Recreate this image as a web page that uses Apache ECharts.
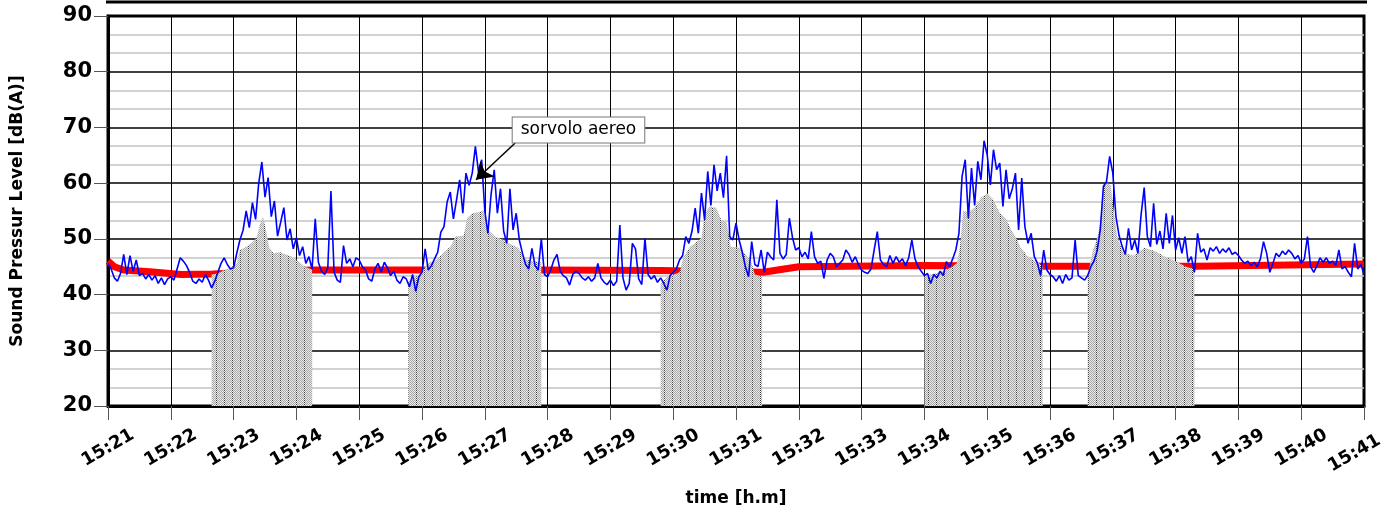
<!DOCTYPE html>
<html>
<head>
<meta charset="utf-8">
<script src="https://cdn.jsdelivr.net/npm/echarts@6/dist/echarts.min.js"></script>
<style>
html,body{margin:0;padding:0;background:#fff;}
#chart{width:1383px;height:510px;}
</style>
</head>
<body>
<div id="chart"></div>
<script>
// ---- DATA ----
const startHour = 15;
const startMinute = 21;
const xTickStepSec = 60;
const yTicks = [20, 30, 40, 50, 60, 70, 80, 90];
const yAxisTitle = 'Sound Pressur Level [dB(A)]';
const xAxisTitle = 'time [h.m]';
const annotationText = 'sorvolo aereo';

// blue: measured level, one value every 3 s from 15:21:00
const blueStep = 3;
const blueValues = [
  45.6,44.6,43.0,42.4,43.8,47.2,43.6,47.0,44.2,46.2,43.4,43.8,42.8,43.6,42.6,43.4,42.0,43.0,41.8,42.8,
  43.2,42.6,44.6,46.6,46.0,45.2,44.0,42.4,42.0,42.8,42.2,43.6,42.6,41.2,42.4,44.0,45.6,46.6,45.4,44.6,
  44.8,47.4,49.8,51.5,55.0,52.0,56.5,53.5,60.0,63.8,57.5,61.0,54.0,56.8,50.5,53.0,55.6,49.8,51.8,48.2,
  50.2,47.0,48.6,45.6,46.8,44.6,53.6,45.8,44.2,43.6,44.8,58.6,44.0,42.6,42.2,48.8,45.6,46.4,45.0,46.6,
  46.2,45.0,44.4,42.8,42.4,44.6,45.6,44.0,45.8,44.8,43.4,44.2,42.6,42.0,43.2,42.8,41.4,43.6,40.6,43.2,
  44.0,48.2,44.4,45.2,46.4,47.6,51.2,52.2,56.6,58.4,53.6,57.0,60.6,54.6,61.8,59.6,61.8,66.6,62.0,64.2,
  55.0,51.0,58.0,62.4,54.6,59.0,51.4,49.2,59.0,51.6,54.6,49.8,47.4,45.4,44.6,48.3,45.2,44.4,50.0,43.6,
  43.2,44.4,46.2,47.2,44.2,43.4,43.0,41.7,43.6,44.2,43.8,43.0,42.6,43.2,42.4,43.0,45.6,43.0,42.2,41.8,
  42.6,41.6,42.4,52.5,43.0,40.8,42.0,49.2,48.2,42.8,41.8,50.1,43.6,42.8,43.4,42.2,43.0,42.0,40.8,43.4,
  44.0,44.6,46.2,47.0,50.4,49.2,51.4,55.5,51.0,58.2,53.4,62.1,56.0,63.3,58.6,61.8,57.4,64.9,50.4,49.8,
  52.8,49.8,47.6,45.0,43.2,49.5,45.4,45.0,48.0,44.0,47.6,46.8,46.2,57.0,47.4,46.4,47.2,53.7,50.2,48.0,
  48.4,46.8,47.6,46.4,51.3,46.8,45.6,46.0,42.9,46.2,47.4,46.8,45.0,45.6,46.2,48.0,47.2,45.8,46.8,45.4,
  44.4,44.0,43.8,44.6,48.0,51.3,46.2,45.4,45.0,47.0,45.6,46.8,45.8,46.4,45.2,46.6,49.8,46.4,45.0,44.2,
  43.4,43.8,42.0,43.6,43.0,44.2,43.4,45.9,45.0,46.4,48.0,51.0,61.2,64.2,53.7,62.7,56.0,63.9,60.6,67.6,
  65.1,59.7,66.0,62.4,63.6,55.8,62.4,57.2,59.0,61.8,51.6,60.9,52.2,49.2,51.0,46.8,45.6,43.4,48.0,44.4,
  43.6,43.2,42.4,43.4,42.0,43.6,42.6,43.0,49.8,43.4,43.0,42.6,43.4,45.0,46.0,47.8,51.6,59.4,60.3,64.8,
  61.8,54.0,50.6,48.6,47.2,51.9,48.0,49.8,47.4,54.3,59.2,50.4,48.6,56.4,49.0,51.4,48.2,54.6,49.2,54.2,
  48.0,50.2,47.4,50.4,45.8,46.8,44.0,51.0,47.6,48.2,46.2,48.4,47.8,48.6,47.4,48.2,47.6,48.4,47.2,47.6,
  47.0,46.2,45.6,46.0,45.2,45.8,45.0,46.4,49.5,47.4,44.0,45.6,47.4,46.8,47.8,47.2,48.0,47.4,46.4,47.0,
  45.6,46.4,50.4,45.0,44.0,45.2,46.6,45.8,46.6,45.6,46.0,45.2,48.0,44.6,45.0,44.0,43.2,49.2,44.6,45.4,
  43.6
];

// red: background level [seconds, dB]
const redTimes  = [0,   6,   15,  40,  70,  100, 195, 300, 414, 528, 626, 660, 780, 900, 1040, 1200];
const redValues = [46.0,45.0,44.4,44.1,43.6,43.7,44.4,44.4,44.4,44.3,44.0,45.0,45.2,45.1,45.1, 45.5];

// grey: event envelopes [seconds, dB]
const event1Times  = [99,105,111,117,123,126,132,138,142,145,148,151,154,158,164,170,176,182,188,195];
const event1Values = [43.6,43.8,44.4,44.8,45.6,48.0,48.6,49.4,50.2,52.5,54.0,51.5,48.5,47.4,47.6,47.2,46.8,46.0,45.0,44.5];
const event2Times  = [287,292,298,305,314,320,327,332,340,343,348,355,359,363,370,378,385,392,398,406,414];
const event2Values = [42.3,43.2,43.4,45.6,46.2,47.4,48.6,50.4,50.6,53.7,54.6,54.8,55.2,51.6,50.4,49.8,49.0,48.4,46.4,46.0,45.8];
const event3Times  = [528,534,541,546,550,556,562,567,570,575,581,586,591,595,604,608,614,618,625];
const event3Values = [42.0,43.2,43.6,44.0,46.8,48.6,49.4,50.2,54.6,55.8,55.6,53.4,53.0,48.6,48.4,47.4,46.2,43.6,43.2];
const event4Times  = [780,785,795,805,811,814,817,822,828,834,840,846,852,858,863,868,872,878,884,893];
const event4Values = [43.2,43.6,44.0,44.8,45.6,48.6,55.0,54.8,55.6,57.4,58.2,57.0,54.6,53.6,51.6,50.0,48.4,47.0,46.2,45.2];
const event5Times  = [936,941,945,948,951,955,958,961,964,970,980,990,1000,1010,1020,1030,1038];
const event5Values = [43.2,48.0,50.0,53.0,59.4,60.0,59.6,55.0,50.6,47.4,47.0,48.4,47.8,46.8,46.0,45.0,44.6];

// ---- BUILD ----
const zip = (t, v) => t.map((x, i) => [x, v[i]]);
const blueData = blueValues.map((v, i) => [i * blueStep, v]);
const redData = zip(redTimes, redValues);
const events = [
  zip(event1Times, event1Values), zip(event2Times, event2Values), zip(event3Times, event3Values),
  zip(event4Times, event4Values), zip(event5Times, event5Values)
];
const greyData = [];
events.forEach((ev, i) => {
  if (i > 0) greyData.push([ev[0][0] - 1, null]);
  ev.forEach(p => greyData.push(p));
});

function makePattern() {
  const w = 8, h = 2;
  const c = document.createElement('canvas');
  c.width = w; c.height = h;
  const ctx = c.getContext('2d');
  for (let x = 0; x < w; x++) {
    for (let y = 0; y < h; y++) {
      const odd = (x + y) % 2 === 0;
      let col;
      if (x === 0) col = odd ? '#3a3a3a' : '#f4f4f4';
      else col = odd ? '#a8a8a8' : '#e8e8e8';
      ctx.fillStyle = col;
      ctx.fillRect(x, y, 1, 1);
    }
  }
  return c;
}

const FONT = 'DejaVu Sans';
const xLabelStyle = {fontFamily: FONT, fontWeight: 'bold', fontSize: 18, color: '#000'};
const chart = echarts.init(document.getElementById('chart'), null, {renderer: 'canvas'});
chart.setOption({
  animation: false,
  backgroundColor: '#fff',
  graphic: [{
    type: 'line', shape: {x1: 106, y1: 2, x2: 1367, y2: 2},
    style: {stroke: '#000', lineWidth: 3}, z: 10
  }],
  grid: {
    left: 108, right: 19, top: 16, bottom: 104,
    containLabel: false, outerBoundsMode: 'none',
    show: true, borderColor: '#000', borderWidth: 3, backgroundColor: 'transparent'
  },
  xAxis: {
    type: 'value', min: 0, max: 1200, interval: xTickStepSec,
    name: xAxisTitle, nameLocation: 'middle', nameGap: 84,
    nameTextStyle: {fontFamily: FONT, fontWeight: 'bold', fontSize: 17, color: '#000'},
    axisLine: {show: true, lineStyle: {color: '#000', width: 3}},
    axisTick: {show: true, length: 14, lineStyle: {color: '#555', width: 1}},
    axisLabel: Object.assign({
      rotate: 30, align: 'center', verticalAlign: 'middle', margin: 42,
      formatter: v => {
        const s = startHour + ':' + (startMinute + Math.round(v / 60));
        return v >= 1200 ? '{last|' + s + '}' : s;
      },
      rich: {last: Object.assign({padding: [0, 22, 0, 0]}, xLabelStyle)},
      showMinLabel: true, showMaxLabel: true, hideOverlap: false
    }, xLabelStyle),
    splitLine: {show: true, lineStyle: {color: '#000', width: 1}}
  },
  yAxis: {
    type: 'value', min: yTicks[0], max: yTicks[yTicks.length - 1], interval: 10,
    name: yAxisTitle, nameLocation: 'middle', nameGap: 82, nameRotate: 90,
    nameTextStyle: {fontFamily: FONT, fontWeight: 'bold', fontSize: 17, color: '#000'},
    axisLine: {show: true, lineStyle: {color: '#000', width: 3}},
    axisTick: {show: true, length: 14, lineStyle: {color: '#555', width: 1}},
    axisLabel: {margin: 16, fontFamily: FONT, fontWeight: 'bold', fontSize: 21, color: '#000'},
    splitLine: {show: true, lineStyle: {color: '#000', width: 1.5}},
    minorTick: {show: false, splitNumber: 3},
    minorSplitLine: {show: true, lineStyle: {color: '#c4c4c4', width: 1.5}}
  },
  series: [
    {
      name: 'background', type: 'line', data: redData, showSymbol: false, z: 2,
      lineStyle: {color: '#ff0000', width: 7}, itemStyle: {color: '#ff0000'}
    },
    {
      name: 'events', type: 'line', data: greyData, showSymbol: false, connectNulls: false, z: 3,
      lineStyle: {width: 0, opacity: 0},
      areaStyle: {origin: 'start', color: {image: makePattern(), repeat: 'repeat'}, opacity: 1}
    },
    {
      name: 'level', type: 'line', data: blueData, showSymbol: false, z: 4,
      lineStyle: {color: '#0000ff', width: 1.6}, itemStyle: {color: '#0000ff'},
      markLine: {
        silent: true, animation: false,
        symbol: ['none', 'arrow'], symbolSize: 16,
        label: {show: false},
        lineStyle: {color: '#000', width: 1.5, type: 'solid'},
        data: [[{coord: [389, 67.2]}, {coord: [351.6, 60.6]}]]
      },
      markPoint: {
        silent: true, animation: false,
        data: [{
          coord: [449.5, 69.54], symbol: 'rect', symbolSize: 1,
          itemStyle: {color: 'rgba(0,0,0,0)'},
          label: {
            show: true, position: 'inside', formatter: annotationText, color: '#000',
            fontSize: 17, fontFamily: FONT, backgroundColor: '#fff',
            borderColor: '#777', borderWidth: 1, padding: [4, 8, 4, 8]
          }
        }]
      }
    }
  ]
});
</script>
</body>
</html>
